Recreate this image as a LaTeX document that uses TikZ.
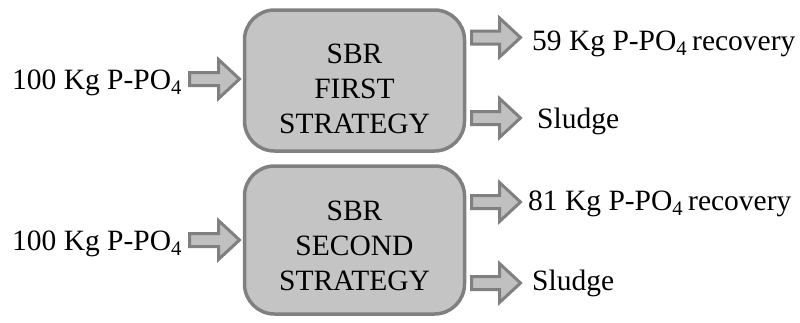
\documentclass[tikz,border=0pt]{standalone}
\usepackage{fontspec}
\setmainfont{Liberation Serif}
\definecolor{boxfill}{HTML}{C4C4C4}
\definecolor{boxline}{HTML}{808080}
\definecolor{arrfill}{HTML}{C0C0C0}
\newcommand\blockarr[4]{% name, x start, y center, shaft length
  \coordinate (#1) at (#2,#3);
  \draw[barrow] (#1) ++(0,-6.5) -- ++(#4,0) -- ++(0,-13) -- ++(21,19.5) -- ++(-21,19.5) -- ++(0,-13) -- ++(-#4,0) -- cycle;}
\begin{document}
\begin{tikzpicture}[x=1pt,y=-1pt,
  sbr/.style={draw=boxline, fill=boxfill, line width=3.5pt, rounded corners=30pt},
  barrow/.style={draw=boxline, fill=arrfill, line width=3pt, line join=miter},
  lbl/.style={font=\fontsize{29.5}{33}\selectfont, inner sep=0pt},
  boxtxt/.style={font=\fontsize{29.5}{35}\selectfont, align=center, inner sep=0pt}]
\useasboundingbox (0,0) rectangle (800,322);
% boxes
\draw[sbr] (244.5,10) rectangle (464.5,151);
\draw[sbr] (244.5,166) rectangle (464.5,314);
\node[boxtxt] (b1) at (354.5,89) {SBR\\FIRST\\STRATEGY};
\node[boxtxt] (b2) at (354.5,246) {SBR\\SECOND\\STRATEGY};
% input arrows
\blockarr{in1}{189.5}{79}{29}
\blockarr{in2}{189.5}{240}{29}
\node[lbl, anchor=base west] (t1) at (12,89) {100 Kg P-PO\textsubscript{4}};
\node[lbl, anchor=base west] (t2) at (12,250) {100 Kg P-PO\textsubscript{4}};
% output arrows
\blockarr{o1}{471.5}{37.5}{28}
\blockarr{o2}{471.5}{118}{28}
\blockarr{o3}{471.5}{202}{28}
\blockarr{o4}{471.5}{283}{28}
\node[lbl, anchor=base west] (r1) at (532,50) {59 Kg P-PO\textsubscript{4}\,recovery};
\node[lbl, anchor=base west] (r2) at (537,128) {Sludge};
\node[lbl, anchor=base west] (r3) at (528,210) {81 Kg P-PO\textsubscript{4}\,recovery};
\node[lbl, anchor=base west] (r4) at (532,290) {Sludge};
\end{tikzpicture}
\end{document}
